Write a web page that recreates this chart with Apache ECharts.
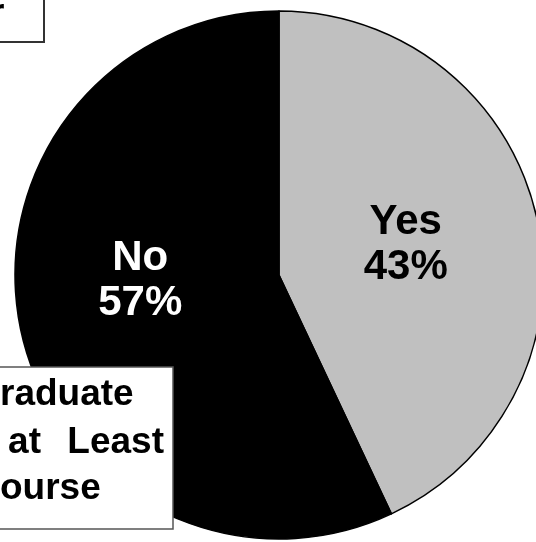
<!DOCTYPE html>
<html>
<head>
<meta charset="utf-8">
<script src="https://cdn.jsdelivr.net/npm/echarts@6/dist/echarts.min.js"></script>
<style>
html,body{margin:0;padding:0;background:#fff;}
#chart{width:536px;height:542px;}
</style>
</head>
<body>
<div id="chart"></div>
<script>
const categories = ['Yes', 'No'];
const values = [43, 57];
const boxLines = ['raduate', 'at', 'Least', 'ourse'];
const cornerText = 'r';

const sliceColors = ['#c0c0c0', '#000000'];
const labelColors = ['#000000', '#ffffff'];
const labelOffsets = [[-5, -1], [-7, -24]];

const chart = echarts.init(document.getElementById('chart'), null, {renderer: 'canvas'});
const FONT = '"Liberation Sans", Arial, Helvetica, sans-serif';

const option = {
  animation: false,
  backgroundColor: '#ffffff',
  series: [{
    type: 'pie',
    center: [279, 275],
    radius: 264,
    startAngle: 90,
    clockwise: true,
    silent: true,
    itemStyle: { borderColor: '#000', borderWidth: 1.5 },
    label: {
      show: true,
      position: 'inside',
      formatter: '{b}\n{c}%',
      fontFamily: FONT,
      fontWeight: 'bold',
      fontSize: 42,
      lineHeight: 45
    },
    labelLine: { show: false },
    data: categories.map((c, i) => ({
      name: c,
      value: values[i],
      itemStyle: { color: sliceColors[i] },
      label: { color: labelColors[i], offset: labelOffsets[i] }
    }))
  }],
  graphic: [
    {
      type: 'rect', z: 100,
      shape: { x: -10, y: -10, width: 54, height: 52 },
      style: { fill: '#fff', stroke: '#333', lineWidth: 2 }
    },
    {
      type: 'text', z: 101,
      style: { text: cornerText, x: -10, y: 14, align: 'left', verticalAlign: 'middle',
        font: 'bold 37px ' + FONT, fill: '#000' }
    },
    {
      type: 'rect', z: 100,
      shape: { x: -10, y: 367, width: 183, height: 162 },
      style: { fill: '#fff', stroke: '#555', lineWidth: 1.5 }
    },
    {
      type: 'text', z: 101,
      style: { text: boxLines[0], x: 0, y: 395, align: 'left', verticalAlign: 'middle',
        font: 'bold 37px ' + FONT, fill: '#000' }
    },
    {
      type: 'text', z: 101,
      style: { text: boxLines[1], x: 41, y: 443, align: 'right', verticalAlign: 'middle',
        font: 'bold 37px ' + FONT, fill: '#000' }
    },
    {
      type: 'text', z: 101,
      style: { text: boxLines[2], x: 164, y: 443, align: 'right', verticalAlign: 'middle',
        font: 'bold 37px ' + FONT, fill: '#000' }
    },
    {
      type: 'text', z: 101,
      style: { text: boxLines[3], x: 0, y: 489, align: 'left', verticalAlign: 'middle',
        font: 'bold 37px ' + FONT, fill: '#000' }
    }
  ]
};
chart.setOption(option);
</script>
</body>
</html>
